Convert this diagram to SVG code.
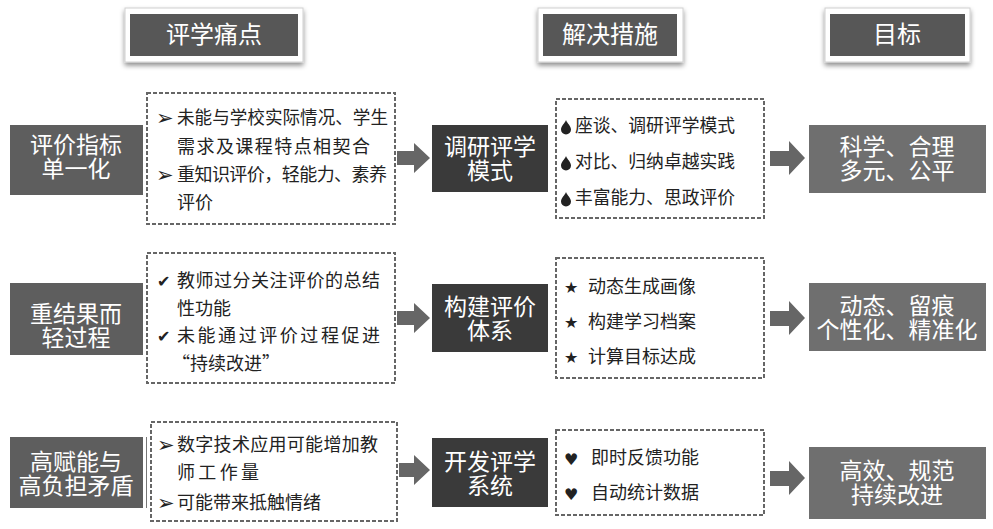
<svg xmlns="http://www.w3.org/2000/svg" width="993" height="529" viewBox="0 0 993 529">
<style>
.hdr-o{fill:#fff;stroke:#d0d0d0;stroke-width:1}
.hdr-i{fill:#575757}
.lbl{font-family:"Noto Sans CJK SC","Liberation Sans",sans-serif;fill:#fff;font-size:23px;text-anchor:middle}
.hl{font-size:24px}
.pain{fill:#5e5e5e}
.mid{fill:#3a3a3a}
.goal{fill:#6f6f6f}
.dash{fill:#fff;stroke:#666;stroke-width:2;stroke-dasharray:4 2}
.txt{font-family:"Noto Sans CJK SC","Liberation Serif",serif;fill:#222;font-size:18px}
.sym{font-family:"DejaVu Sans",sans-serif;fill:#222;font-size:16px}
.big{font-size:21px}
.arr{fill:#666}
</style>
<defs>
<filter id="sh" x="-10%" y="-20%" width="120%" height="160%">
<feDropShadow dx="0" dy="3" stdDeviation="2.5" flood-color="#000" flood-opacity="0.45"/>
</filter>
<path id="drop" d="M0,-7 C1,-4 5,-1 5,2.5 A5,5 0 0 1 -5,2.5 C-5,-1 -1,-4 0,-7 Z" fill="#222"/>
</defs>
<rect width="993" height="529" fill="#fff"/>

<g id="h1">
<rect class="hdr-o" x="125" y="8" width="178" height="54" filter="url(#sh)"/>
<rect class="hdr-i" x="130" y="14" width="168" height="42"/>
<text class="lbl hl" x="214" y="43">评学痛点</text>
</g>
<g id="h2">
<rect class="hdr-o" x="538" y="8" width="145" height="54" filter="url(#sh)"/>
<rect class="hdr-i" x="543" y="14" width="134" height="42"/>
<text class="lbl hl" x="610" y="43">解决措施</text>
</g>
<g id="h3">
<rect class="hdr-o" x="825" y="8" width="145" height="54" filter="url(#sh)"/>
<rect class="hdr-i" x="830" y="14" width="135" height="42"/>
<text class="lbl hl" x="897" y="43">目标</text>
</g>

<!-- Row 1 -->
<g id="p1">
<rect class="pain" x="10" y="125" width="133" height="70"/>
<text class="lbl" x="76" y="153"><tspan x="76">评价指标</tspan><tspan x="76" dy="24">单一化</tspan></text>
</g>
<g id="d1">
<rect class="dash" x="147" y="93" width="248" height="131"/>
<text class="sym big" x="156" y="125">➢</text>
<text class="txt" x="177" y="124" textLength="211" lengthAdjust="spacingAndGlyphs">未能与学校实际情况、学生</text>
<text class="txt" x="177" y="153" textLength="193">需求及课程特点相契合</text>
<text class="sym big" x="156" y="182">➢</text>
<text class="txt" x="177" y="181" textLength="210">重知识评价，轻能力、素养</text>
<text class="txt" x="177" y="209">评价</text>
</g>
<g id="m1">
<rect class="mid" x="432" y="125" width="116" height="67"/>
<text class="lbl" x="490" y="155"><tspan x="490">调研评学</tspan><tspan x="490" dy="24">模式</tspan></text>
</g>
<g id="s1">
<rect class="dash" x="556" y="99" width="208" height="119"/>
<use href="#drop" x="566" y="127"/>
<text class="txt" x="575" y="132" textLength="160" lengthAdjust="spacingAndGlyphs">座谈、调研评学模式</text>
<use href="#drop" x="566" y="163"/>
<text class="txt" x="575" y="168" textLength="160" lengthAdjust="spacingAndGlyphs">对比、归纳卓越实践</text>
<use href="#drop" x="566" y="199"/>
<text class="txt" x="575" y="204" textLength="160" lengthAdjust="spacingAndGlyphs">丰富能力、思政评价</text>
</g>
<g id="g1">
<rect class="goal" x="809" y="125" width="177" height="68"/>
<text class="lbl" x="897" y="155"><tspan x="897">科学、合理</tspan><tspan x="897" dy="24">多元、公平</tspan></text>
</g>

<!-- Row 2 -->
<g id="p2">
<rect class="pain" x="10" y="283" width="133" height="72"/>
<text class="lbl" x="76" y="322"><tspan x="76">重结果而</tspan><tspan x="76" dy="24">轻过程</tspan></text>
</g>
<g id="d2">
<rect class="dash" x="147" y="253" width="248" height="130"/>
<text class="sym" x="157" y="287">✔</text>
<text class="txt" x="177" y="287" textLength="203">教师过分关注评价的总结</text>
<text class="txt" x="177" y="315">性功能</text>
<text class="sym" x="157" y="342">✔</text>
<text class="txt" x="177" y="342" textLength="203">未能通过评价过程促进</text>
<text class="txt" x="172" y="370">“持续改进”</text>
</g>
<g id="m2">
<rect class="mid" x="432" y="284" width="116" height="68"/>
<text class="lbl" x="490" y="315"><tspan x="490">构建评价</tspan><tspan x="490" dy="24">体系</tspan></text>
</g>
<g id="s2">
<rect class="dash" x="556" y="258" width="208" height="120"/>
<text class="sym" x="564" y="293">★</text>
<text class="txt" x="588" y="293">动态生成画像</text>
<text class="sym" x="564" y="328">★</text>
<text class="txt" x="588" y="328">构建学习档案</text>
<text class="sym" x="564" y="363">★</text>
<text class="txt" x="588" y="363">计算目标达成</text>
</g>
<g id="g2">
<rect class="goal" x="809" y="283" width="177" height="68"/>
<text class="lbl" x="897" y="314"><tspan x="897">动态、留痕</tspan><tspan x="897" dy="24">个性化、精准化</tspan></text>
</g>

<!-- Row 3 -->
<g id="p3">
<rect class="pain" x="10" y="437" width="133" height="71"/>
<line x1="146.5" y1="437" x2="146.5" y2="508" stroke="#777" stroke-width="1"/>
<text class="lbl" x="76" y="470"><tspan x="76">高赋能与</tspan><tspan x="76" dy="24">高负担矛盾</tspan></text>
</g>
<g id="d3">
<rect class="dash" x="151" y="422" width="246" height="99"/>
<text class="sym big" x="157" y="452">➢</text>
<text class="txt" x="177" y="451" textLength="201">数字技术应用可能增加教</text>
<text class="txt" x="177" y="479" textLength="82">师工作量</text>
<text class="sym big" x="157" y="510">➢</text>
<text class="txt" x="177" y="509">可能带来抵触情绪</text>
</g>
<g id="m3">
<rect class="mid" x="432" y="438" width="116" height="69"/>
<text class="lbl" x="490" y="470"><tspan x="490">开发评学</tspan><tspan x="490" dy="24">系统</tspan></text>
</g>
<g id="s3">
<rect class="dash" x="556" y="430" width="208" height="85"/>
<text class="sym" x="564" y="465">♥</text>
<text class="txt" x="591" y="464">即时反馈功能</text>
<text class="sym" x="564" y="500">♥</text>
<text class="txt" x="591" y="499">自动统计数据</text>
</g>
<g id="g3">
<rect class="goal" x="809" y="447" width="177" height="72"/>
<text class="lbl" x="897" y="479"><tspan x="897">高效、规范</tspan><tspan x="897" dy="24">持续改进</tspan></text>
</g>

<g id="connectors">
<path class="arr" d="M397,151 H414 V143 L430,158 L414,173 V165 H397 Z"/>
<path class="arr" d="M770,151 H789 V141 L805,158 L789,175 V166 H770 Z"/>
<path class="arr" d="M397,311 H414 V303 L430,318 L414,333 V325 H397 Z"/>
<path class="arr" d="M770,311 H789 V301 L805,318 L789,335 V326 H770 Z"/>
<path class="arr" d="M399,463 H414 V455 L430,470 L414,485 V477 H399 Z"/>
<path class="arr" d="M770,471 H789 V461 L805,478 L789,495 V486 H770 Z"/>
</g>
</svg>
